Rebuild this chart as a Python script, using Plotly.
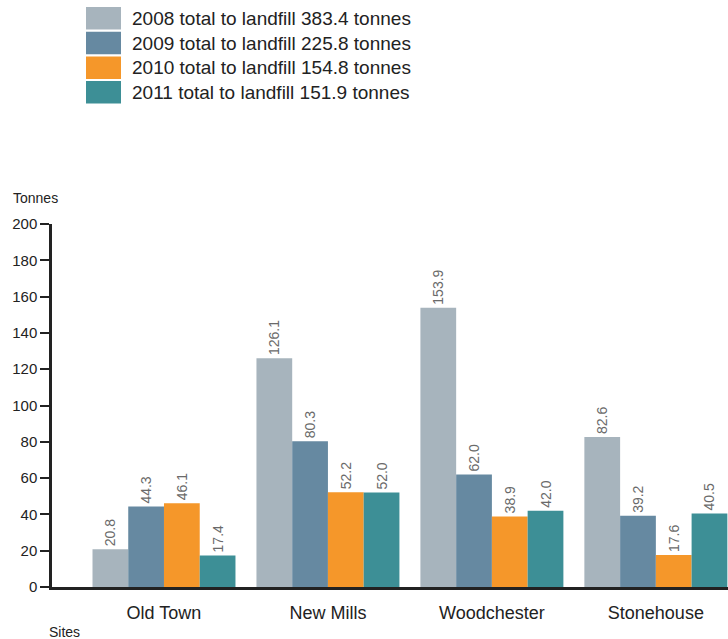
import plotly.graph_objects as go

sites = ["Old Town", "New Mills", "Woodchester", "Stonehouse"]
years = ["2008", "2009", "2010", "2011"]
totals = ["383.4", "225.8", "154.8", "151.9"]
v2008 = [20.8, 126.1, 153.9, 82.6]
v2009 = [44.3, 80.3, 62.0, 39.2]
v2010 = [46.1, 52.2, 38.9, 17.6]
v2011 = [17.4, 52.0, 42.0, 40.5]
series = [v2008, v2009, v2010, v2011]
colors = ["#A7B4BD", "#6689A1", "#F5972A", "#3D8F96"]
yticks = [0, 20, 40, 60, 80, 100, 120, 140, 160, 180, 200]

W, H = 728, 639
ML, MR, MT, MB = 52, 0, 224, 52
NARROW = "Liberation Sans Narrow, Arial Narrow, Liberation Sans, sans-serif"

fig = go.Figure()
for yr, vals, col in zip(years, series, colors):
    fig.add_trace(go.Bar(
        x=sites, y=vals, name=yr, marker=dict(color=col, line=dict(width=0)),
        texttemplate="%{y:.1f}", textposition="outside", textangle=-90,
        constraintext="none",
        outsidetextfont=dict(family="Liberation Sans, Arial, sans-serif", size=14, color="#6a6a6a"),
        cliponaxis=False, showlegend=False,
    ))

fig.update_layout(
    width=W, height=H,
    margin=dict(l=ML, r=MR, t=MT, b=MB),
    paper_bgcolor="white", plot_bgcolor="white",
    barmode="group", bargap=0.128, bargroupgap=0,
    xaxis=dict(
        type="category", range=[-0.683, 3.44], showgrid=False,
        showline=True, linecolor="#222222", linewidth=3,
        ticks="", tickfont=dict(family=NARROW, size=18, color="#222222"),
        ticklabelstandoff=7,
    ),
    yaxis=dict(
        range=[0, 200], tickvals=yticks, showgrid=False, zeroline=False,
        showline=True, linecolor="#222222", linewidth=2.5,
        ticks="outside", ticklen=9, tickwidth=2, tickcolor="#222222",
        tickfont=dict(family=NARROW, size=15, color="#222222"),
    ),
)

pw, ph = W - ML - MR, H - MT - MB
annotations = [
    dict(text="Tonnes", xref="paper", yref="paper", x=(11 - ML) / pw, y=1 + 26 / ph,
         xanchor="left", yanchor="middle", showarrow=False,
         font=dict(family=NARROW, size=14, color="#222222")),
    dict(text="Sites", xref="paper", yref="paper", x=-5 / pw, y=-45 / ph,
         xanchor="left", yanchor="middle", showarrow=False,
         font=dict(family=NARROW, size=14, color="#222222")),
]
shapes = []
for i, (yr, tot, col) in enumerate(zip(years, totals, colors)):
    top = 7 + i * 24.7
    shapes.append(dict(type="rect", xref="paper", yref="paper",
                       x0=(86 - ML) / pw, x1=(121 - ML) / pw,
                       y0=(H - MB - top) / ph, y1=(H - MB - top - 22.5) / ph,
                       fillcolor=col, line=dict(width=0)))
    annotations.append(dict(text=f"{yr} total to landfill {tot} tonnes", xref="paper", yref="paper",
                            x=(130 - ML) / pw, y=(H - MB - top - 11.5) / ph,
                            xanchor="left", yanchor="middle", showarrow=False,
                            font=dict(family=NARROW, size=19, color="#222222")))
fig.update_layout(annotations=annotations, shapes=shapes)

fig.write_html("out.html")
